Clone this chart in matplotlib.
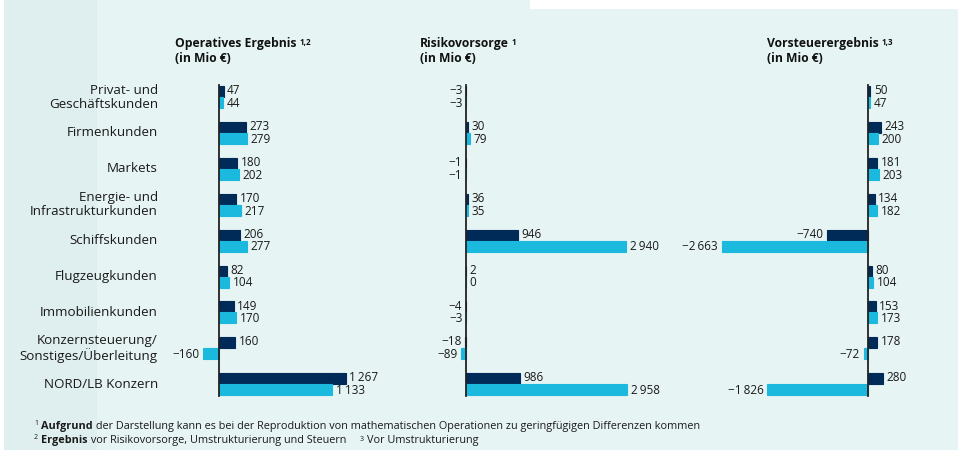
import matplotlib
matplotlib.use("Agg")
import matplotlib.pyplot as plt
from matplotlib.patches import Rectangle
from matplotlib.transforms import blended_transform_factory

plt.rcParams["font.family"] = ["Open Sans", "DejaVu Sans"]

# Data
categories = [
    "Privat- und\nGeschäftskunden",
    "Firmenkunden",
    "Markets",
    "Energie- und\nInfrastrukturkunden",
    "Schiffskunden",
    "Flugzeugkunden",
    "Immobilienkunden",
    "Konzernsteuerung/\nSonstiges/Überleitung",
    "NORD/LB Konzern",
]
op_dark = [47, 273, 180, 170, 206, 82, 149, 160, 1267]
op_light = [44, 279, 202, 217, 277, 104, 170, -160, 1133]
risk_dark = [-3, 30, -1, 36, 946, 2, -4, -18, 986]
risk_light = [-3, 79, -1, 35, 2940, 0, -3, -89, 2958]
pre_dark = [50, 243, 181, 134, -740, 80, 153, 178, 280]
pre_light = [47, 200, 203, 182, -2663, 104, 173, -72, -1826]

titles = ["Operatives Ergebnis", "Risikovorsorge", "Vorsteuerergebnis"]
title_sups = ["1,2", "1", "1,3"]

DARK = "#002a58"
LIGHT = "#1cb9df"
BG = "#e7f4f4"
TXT = "#1a1a1a"
W, H = 958, 450

fig = plt.figure(figsize=(W / 100, H / 100), dpi=100)
fig.patch.set_facecolor(BG)


def fx(x):
    return x / W


def fy(y):
    return 1 - y / H


# background decoration
fig.add_artist(Rectangle((fx(4), 0), fx(93), 1, transform=fig.transFigure,
                         facecolor="#dfeeee", edgecolor="none", zorder=0))
fig.add_artist(Rectangle((0, 0), fx(4), 1, transform=fig.transFigure,
                         facecolor="white", edgecolor="none", zorder=0))
fig.add_artist(Rectangle((fx(530), fy(9)), fx(428), fy(0) - fy(9) + 0.01,
                         transform=fig.transFigure, facecolor="white",
                         edgecolor="none", zorder=0))


def fmt(v):
    s = f"{abs(v):,}".replace(",", "\u2009")
    return ("\u2212" + s) if v < 0 else s


# panel geometry: (left px, right px, zero px, px per unit)
panels = [
    (180, 420, 219, 0.1, op_dark, op_light),
    (420, 700, 466, 0.0545, risk_dark, risk_light),
    (700, 945, 867.5, 0.0548, pre_dark, pre_light),
]
top_px, bot_px = 80, 402
row0, pitch = 97, 35.9
bh = 11 / pitch
n = len(categories)
ys = list(range(n))

axes = []
for left, right, zero, scale, dark, light in panels:
    ax = fig.add_axes([fx(left), fy(bot_px), fx(right - left), (bot_px - top_px) / H])
    ax.set_xlim(-(zero - left) / scale, (right - zero) / scale)
    ax.set_ylim((bot_px - row0) / pitch, (top_px - row0) / pitch)
    ax.axis("off")
    ax.barh([y - bh / 2 for y in ys], dark, height=bh, color=DARK,
            edgecolor=DARK, linewidth=0.8)
    ax.barh([y + bh / 2 for y in ys], light, height=bh, color=LIGHT,
            edgecolor=LIGHT, linewidth=0.8)
    ax.plot([0, 0], [-bh - 0.03, n - 1 + bh + 0.03], color="#222222", lw=1.3)
    for y, d, l in zip(ys, dark, light):
        for v, yy, dy in ((d, y - bh / 2, 0.6), (l, y + bh / 2, -0.6)):
            off = 2.5 if v >= 0 else -2.5
            ax.annotate(fmt(v), xy=(v, yy), xytext=(off, dy),
                        textcoords="offset points", ha="left" if v >= 0 else "right",
                        va="center", fontsize=8.5, color=TXT)
    axes.append(ax)

# category labels
tr = blended_transform_factory(fig.transFigure, axes[0].transData)
for y, c in zip(ys, categories):
    axes[0].text(fx(158), y, c, transform=tr, ha="right", va="center",
                 fontsize=9.6, color=TXT, linespacing=1.1)

# panel titles
for x, t, s in zip([175, 420, 767], titles, title_sups):
    tt = fig.text(fx(x), fy(47), t, fontsize=8.7, fontweight="bold",
                  va="baseline", color="#111111")
    fig.text(fx(x), fy(62), "(in Mio €)", fontsize=8.7, fontweight="bold",
             va="baseline", color="#111111")
    plt.annotate(s, xy=(1, 1), xycoords=tt, xytext=(2, -1),
                 textcoords="offset points", ha="left", va="top",
                 fontsize=5.8, fontweight="bold", color="#111111")

# footnotes
fs = 7.8
sup = 5.0
fig.text(fx(34), fy(425), "1", fontsize=sup, va="baseline", color=TXT)
b1 = fig.text(fx(41), fy(429), "Aufgrund", fontsize=fs, fontweight="bold",
              va="baseline", color=TXT)
plt.annotate(" der Darstellung kann es bei der Reproduktion von mathematischen "
             "Operationen zu geringfügigen Differenzen kommen",
             xy=(1, 0), xycoords=b1, va="bottom", ha="left", fontsize=fs, color=TXT)

fig.text(fx(34), fy(439), "2", fontsize=sup, va="baseline", color=TXT)
b2 = fig.text(fx(41), fy(443), "Ergebnis", fontsize=fs, fontweight="bold",
              va="baseline", color=TXT)
r2 = plt.annotate(" vor Risikovorsorge, Umstrukturierung und Steuern",
                  xy=(1, 0), xycoords=b2, va="bottom", ha="left", fontsize=fs, color=TXT)
s3 = plt.annotate("3", xy=(1, 1), xycoords=r2, xytext=(10, -1),
                  textcoords="offset points", va="top", ha="left",
                  fontsize=sup, color=TXT)
plt.annotate("Vor Umstrukturierung", xy=(1, 0), xycoords=r2, xytext=(15, 0),
             textcoords="offset points", va="bottom", ha="left", fontsize=fs, color=TXT)

fig.savefig("out.png", dpi=100, facecolor=fig.get_facecolor())
